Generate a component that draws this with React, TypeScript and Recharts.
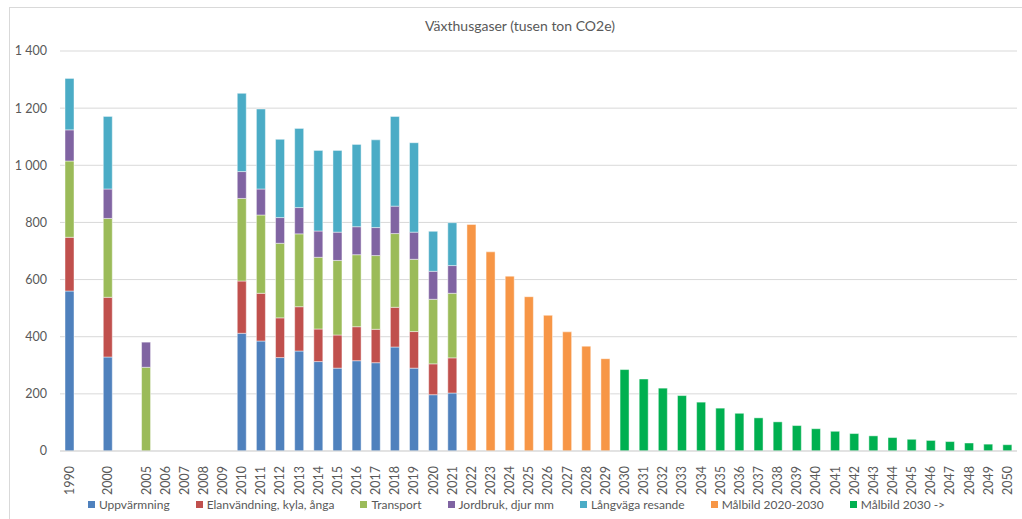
import { Bar, BarChart, CartesianGrid, Legend, XAxis, YAxis } from "recharts";

const years = [
  "1990", "", "2000", "", "2005", "2006", "2007", "2008", "2009", "2010",
  "2011", "2012", "2013", "2014", "2015", "2016", "2017", "2018", "2019", "2020",
  "2021", "2022", "2023", "2024", "2025", "2026", "2027", "2028", "2029", "2030",
  "2031", "2032", "2033", "2034", "2035", "2036", "2037", "2038", "2039", "2040",
  "2041", "2042", "2043", "2044", "2045", "2046", "2047", "2048", "2049", "2050",
];

// historical series, one value per category (null = no bar)
const uppvarmning = [560, null, 329, null, null, null, null, null, null, 412, 385, 327, 350, 313, 290, 316, 309, 364, 290, 197, 203];
const elanvandning = [188, null, 209, null, null, null, null, null, null, 183, 167, 139, 155, 114, 116, 119, 117, 139, 128, 108, 123];
const transport = [267, null, 276, null, 293, null, null, null, null, 289, 274, 261, 255, 251, 261, 252, 258, 258, 253, 226, 226];
const jordbruk = [109, null, 103, null, 88, null, null, null, null, 94, 91, 90, 92, 92, 99, 98, 98, 96, 95, 98, 97];
const langvaga = [180, null, 254, null, null, null, null, null, null, 274, 280, 274, 277, 282, 286, 288, 307, 314, 313, 140, 150];

// target paths
const malbild2020 = [793, 697, 612, 540, 475, 417, 367, 323]; // 2022-2029
const malbild2030 = [285, 252, 220, 194, 171, 150, 132, 116, 102, 89, 78, 69, 61, 53, 47, 41, 37, 33, 28, 24, 22]; // 2030-2050

const yTicks = [0, 200, 400, 600, 800, 1000, 1200, 1400];

const series = [
  { key: "uppvarmning", name: "Uppvärmning", color: "#4f81bd" },
  { key: "elanvandning", name: "Elanvändning, kyla, ånga", color: "#c0504d" },
  { key: "transport", name: "Transport", color: "#9bbb59" },
  { key: "jordbruk", name: "Jordbruk, djur mm", color: "#8064a2" },
  { key: "langvaga", name: "Långväga resande", color: "#4bacc6" },
  { key: "malbild2020", name: "Målbild 2020-2030", color: "#f79646" },
  { key: "malbild2030", name: "Målbild 2030 ->", color: "#00b050" },
];

const data = years.map((year, i) => ({
  year,
  uppvarmning: uppvarmning[i] ?? null,
  elanvandning: elanvandning[i] ?? null,
  transport: transport[i] ?? null,
  jordbruk: jordbruk[i] ?? null,
  langvaga: langvaga[i] ?? null,
  malbild2020: i >= 21 && i <= 28 ? malbild2020[i - 21] : null,
  malbild2030: i >= 29 ? malbild2030[i - 29] : null,
}));

const font = "Lato, 'Open Sans', sans-serif";
const textColor = "#595959";

const fmt = (v: number) => v.toLocaleString("sv-SE").replace(/\u00a0/g, " ");

function YearTick({ x, y, payload }: any) {
  return (
    <text
      x={x}
      y={y + 7}
      transform={`rotate(-90, ${x}, ${y + 7})`}
      textAnchor="end"
      dy="0.35em"
      fill={textColor}
      fontSize={12.5}
      fontFamily={font}
    >
      {payload.value}
    </text>
  );
}

function LegendContent() {
  return (
    <div
      style={{
        display: "flex",
        justifyContent: "center",
        fontFamily: font,
        fontSize: 12,
        color: textColor,
        gap: 26,
        paddingLeft: 16,
        whiteSpace: "nowrap",
      }}
    >
      {series.map((s) => (
        <div key={s.key} style={{ display: "flex", alignItems: "center", flexShrink: 0 }}>
          <span style={{ width: 7, height: 7, background: s.color, marginRight: 4 }} />
          {s.name}
        </div>
      ))}
    </div>
  );
}

export default function App() {
  return (
    <div style={{ position: "absolute", left: 0, top: 0, width: 1022, height: 519, background: "#fff" }}>
      <div
        style={{
          position: "absolute",
          left: 9,
          top: 7,
          width: 1030,
          height: 530,
          border: "1px solid #d9d9d9",
        }}
      />
      <div
        style={{
          position: "absolute",
          top: 17,
          left: 9,
          width: 1022,
          textAlign: "center",
          fontFamily: font,
          fontSize: 14,
          color: textColor,
        }}
      >
        Växthusgaser (tusen ton CO2e)
      </div>
      <div style={{ position: "absolute", left: 0, top: 0 }}>
        <BarChart
          width={1022}
          height={519}
          data={data}
          margin={{ top: 51, right: 5, left: 0, bottom: 0 }}
          barSize={9}
        >
          <CartesianGrid vertical={false} stroke="#d9d9d9" />
          <XAxis
            dataKey="year"
            interval={0}
            height={46}
            tick={<YearTick />}
            tickLine={false}
            axisLine={{ stroke: "#d9d9d9" }}
          />
          <YAxis
            width={60}
            domain={[0, 1400]}
            ticks={yTicks}
            tickFormatter={fmt}
            tickLine={false}
            axisLine={false}
            tickSize={0}
            tickMargin={13}
            tick={{ fill: textColor, fontSize: 12.5, fontFamily: font }}
          />
          <Legend content={<LegendContent />} verticalAlign="bottom" height={22} />
          {series.map((s) => (
            <Bar
              key={s.key}
              dataKey={s.key}
              name={s.name}
              stackId="a"
              fill={s.color}
              stroke="#ffffff"
              strokeOpacity={0.45}
              strokeWidth={1}
              isAnimationActive={false}
            />
          ))}
        </BarChart>
      </div>
    </div>
  );
}
